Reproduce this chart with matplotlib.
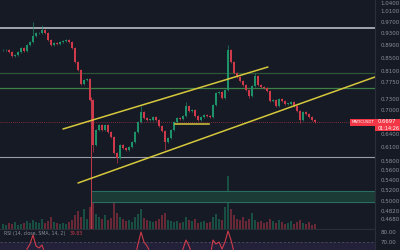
import numpy as np
import matplotlib
matplotlib.use('Agg')
import matplotlib.pyplot as plt
from matplotlib.ticker import FixedLocator, NullLocator, FixedFormatter
import matplotlib.transforms as mtransforms
from matplotlib.patches import Rectangle

# ---------------- data ----------------
close = [0.8740, 0.8740, 0.8675, 0.8548, 0.8580, 0.8675, 0.8805, 0.8707, 0.8903, 0.9002,
         0.9205, 0.9308, 0.9308, 0.9411, 0.9308, 0.9069, 0.8903, 0.8969, 0.8936, 0.9002,
         0.9036, 0.9069, 0.9002, 0.8805, 0.8360, 0.8117, 0.7707, 0.7822, 0.7851, 0.7265,
         0.6149, 0.6501, 0.6622, 0.6501, 0.6622, 0.6453, 0.6334, 0.5970, 0.5861, 0.6149,
         0.6082, 0.6037, 0.6105, 0.6219, 0.6453, 0.6696, 0.6948, 0.6795, 0.6746, 0.6746,
         0.6821, 0.6746, 0.6598, 0.6476, 0.6219, 0.6311, 0.6501, 0.6696, 0.6795, 0.6771,
         0.6846, 0.7104, 0.6974, 0.7000, 0.6846, 0.6746, 0.6821, 0.6871, 0.6846, 0.6821,
         0.7131, 0.7454, 0.7482, 0.7318, 0.7538, 0.8740, 0.8360, 0.8027, 0.7910, 0.7793,
         0.7678, 0.7538, 0.7372, 0.7650, 0.7939, 0.7678, 0.7622, 0.7594, 0.7510, 0.7237,
         0.7265, 0.7104, 0.7291, 0.7237, 0.7157, 0.7157, 0.7210, 0.7104, 0.6974, 0.6746,
         0.6948, 0.6897, 0.6821, 0.6746, 0.6697]
first_open = 0.8740
spike_high = {10: 0.9690, 13: 0.9587, 46: 0.7104, 61: 0.7210, 75: 0.8903, 84: 0.8027}
spike_low = {30: 0.5993, 38: 0.5754, 54: 0.6037, 82: 0.7318, 99: 0.6672}

volume = [5, 4, 6, 5, 7, 4, 5, 6, 8, 6,
          9, 7, 6, 10, 6, 8, 12, 7, 6, 5,
          6, 5, 7, 9, 14, 18, 12, 20, 10, 22,
          35, 15, 12, 10, 14, 9, 11, 38, 16, 12,
          10, 8, 9, 7, 12, 15, 20, 11, 9, 8,
          7, 8, 10, 14, 16, 9, 8, 7, 8, 6,
          7, 12, 9, 8, 10, 6, 7, 8, 6, 7,
          12, 15, 10, 9, 22, 53, 20, 14, 10, 9,
          12, 8, 10, 16, 9, 7, 8, 6, 7, 10,
          8, 6, 9, 7, 5, 6, 8, 5, 7, 9,
          6, 5, 7, 4, 5]

rsi = [52, 50, 47, 44, 46, 50, 55, 52, 63, 68,
       77, 66, 64, 67, 58, 45, 40, 44, 42, 46,
       48, 50, 47, 40, 30, 26, 22, 32, 34, 25,
       18, 35, 40, 36, 42, 38, 35, 28, 26, 40,
       38, 37, 41, 46, 54, 68, 80, 70, 66, 60,
       61, 58, 50, 45, 38, 42, 50, 56, 60, 58,
       63, 72, 66, 58, 55, 50, 54, 56, 55, 54,
       72, 68, 70, 63, 70, 81, 72, 60, 56, 52,
       50, 47, 43, 55, 60, 50, 48, 47, 45, 38,
       40, 36, 44, 42, 40, 42, 40, 36, 33, 30,
       40, 38, 36, 34, 39.83]

price_ticks = [1.0400, 1.0100, 0.9700, 0.9300, 0.8900, 0.8500, 0.8100, 0.7750, 0.7300,
               0.7000, 0.6400, 0.6100, 0.5800, 0.5600, 0.5400, 0.5200, 0.5000, 0.4820, 0.4680]
rsi_ticks = [80, 70]

level_white = 0.9480
level_green_dim = 0.8027
level_green = 0.7594
level_gray = 0.5883
zone_low, zone_high, zone_start = 0.4981, 0.5187, 29.3
last_price = 0.6697
countdown = "01:14:26"
symbol = "MATICUSDT"

upper_channel = ([20, 88.3], [0.6525, 0.8207])
lower_channel = ([25, 124], [0.5343, 0.7910])
flat_line = ([57.3, 68.7], [0.6647, 0.6647])
marker_x = 29.3

# ---------------- style ----------------
BG = '#161a25'
UP = '#1d9168'
DN = '#cf3a4a'
TXT = '#8b8f9a'
SEP = '#2a2e39'
YEL = '#d6c83c'

fig = plt.figure(figsize=(4, 2.5), dpi=100, facecolor=BG)
W = 375 / 400
ax = fig.add_axes([0, 21 / 250, W, 229 / 250], facecolor=BG)
axr = fig.add_axes([0, 0, W, 21 / 250], facecolor=BG)

n = len(close)
idx = np.arange(n)
opens = [first_open] + close[:-1]
highs, lows = [], []
for i in range(n):
    hi = max(opens[i], close[i]) * 1.004
    lo = min(opens[i], close[i]) / 1.004
    highs.append(spike_high.get(i, hi))
    lows.append(spike_low.get(i, lo))

ax.set_yscale('log')
ax.set_xlim(-1, 124)
ax.set_ylim(0.4507, 1.0516)

# zone and levels
ax.fill_between([zone_start, 124], zone_low, zone_high, color='#1b3b36', zorder=1, lw=0)
ax.hlines([zone_low, zone_high], zone_start, 124, color='#2a6e62', lw=0.8, zorder=1)
ax.axhline(level_white, color='#b8bbc4', lw=1.2, zorder=2)
ax.axhline(level_green_dim, color='#2c5636', lw=0.9, zorder=2)
ax.axhline(level_green, color='#3f8046', lw=0.9, zorder=2)
ax.axhline(level_gray, color='#9a9da6', lw=0.8, zorder=2)
ax.axhline(last_price, color='#c0394b', lw=0.6, ls=(0, (1, 1.5)), alpha=0.8, zorder=2)
ax.vlines(marker_x, 0.4507, 0.735, color='#c0394b', lw=0.7, zorder=3)

# volume
axv = ax.twinx()
axv.set_ylim(0, 229)
vcol = [UP if close[i] >= opens[i] else DN for i in range(n)]
axv.bar(idx, volume, width=0.6, color=vcol, alpha=0.45, lw=0, zorder=1)
axv.set_axis_off()

# candles (on top of volume)
ax.set_zorder(axv.get_zorder() + 1)
ax.patch.set_visible(False)
ccol = [UP if close[i] >= opens[i] else DN for i in range(n)]
ax.vlines(idx, lows, highs, colors=ccol, lw=0.45, zorder=4)
bottoms = [min(opens[i], close[i]) for i in range(n)]
heights = [max(abs(close[i] - opens[i]), 0.0015) for i in range(n)]
ax.bar(idx, heights, bottom=bottoms, width=0.5, color=ccol, lw=0, zorder=5)

# channel lines
ax.plot(*upper_channel, color=YEL, lw=1.1, zorder=6, solid_capstyle='round')
ax.plot(*lower_channel, color=YEL, lw=1.1, zorder=6, solid_capstyle='round')
ax.plot(*flat_line, color=YEL, lw=1.1, zorder=6)

# axis styling
ax.yaxis.tick_right()
ax.yaxis.set_major_locator(FixedLocator(price_ticks))
ax.yaxis.set_minor_locator(NullLocator())
ax.yaxis.set_major_formatter(FixedFormatter([f"{t:.4f}" for t in price_ticks]))
ax.tick_params(axis='y', length=0, pad=4, labelsize=4, labelcolor=TXT)
ax.tick_params(axis='x', bottom=False, labelbottom=False)
for s in ['top', 'left', 'bottom']:
    ax.spines[s].set_visible(False)
ax.spines['right'].set_color(SEP)
ax.spines['right'].set_linewidth(0.8)

# price labels
bt = mtransforms.blended_transform_factory(ax.transAxes, ax.transData)
ax.add_patch(Rectangle((1.0, 0.6476), 25 / 375, 0.6771 - 0.6476, transform=bt,
                       facecolor='#f23645', edgecolor='none', clip_on=False, zorder=10))
ax.text(1.008, 0.6697, f"{last_price:.4f}", transform=bt, ha='left', va='center',
        fontsize=3.8, color='white', clip_on=False, zorder=11)
ax.text(1.008, 0.6540, countdown, transform=bt, ha='left', va='center',
        fontsize=3.5, color='white', clip_on=False, zorder=11)
ax.add_patch(Rectangle((350 / 375, 0.6598), 25 / 375, 0.6771 - 0.6598, transform=bt,
                       facecolor='#f23645', edgecolor='none', clip_on=False, zorder=10))
ax.text(362.5 / 375, 0.6686, symbol, transform=bt, ha='center', va='center',
        fontsize=2.8, color='white', zorder=11)

# RSI panel
axr.set_xlim(-1, 124)
axr.set_ylim(62, 83)
axr.axhspan(30, 70, color='#7e57c2', alpha=0.13, lw=0)
axr.axhline(70, color='#787b86', lw=0.5, ls=(0, (3, 3)), alpha=0.6)
axr.plot(idx, rsi, color=DN, lw=0.8)
axr.yaxis.tick_right()
axr.yaxis.set_major_locator(FixedLocator(rsi_ticks))
axr.yaxis.set_major_formatter(FixedFormatter([f"{t:.2f}" for t in rsi_ticks]))
axr.tick_params(axis='y', length=0, pad=4, labelsize=4, labelcolor=TXT)
axr.tick_params(axis='x', bottom=False, labelbottom=False)
for s in ['left', 'bottom']:
    axr.spines[s].set_visible(False)
axr.spines['right'].set_color(SEP)
axr.spines['top'].set_color(SEP)
axr.spines['right'].set_linewidth(0.8)
axr.spines['top'].set_linewidth(0.8)
t1 = axr.text(0.012, 0.80, "RSI (14, close, SMA, 14, 2)", transform=axr.transAxes,
              ha='left', va='center', fontsize=3.3, color=TXT)
axr.annotate(f"{rsi[-1]:.2f}", xy=(1, 0.5), xycoords=t1, xytext=(2.5, 0),
             textcoords='offset points', ha='left', va='center', fontsize=3.3, color=DN)

fig.savefig('out.png', dpi=100, facecolor=BG)
